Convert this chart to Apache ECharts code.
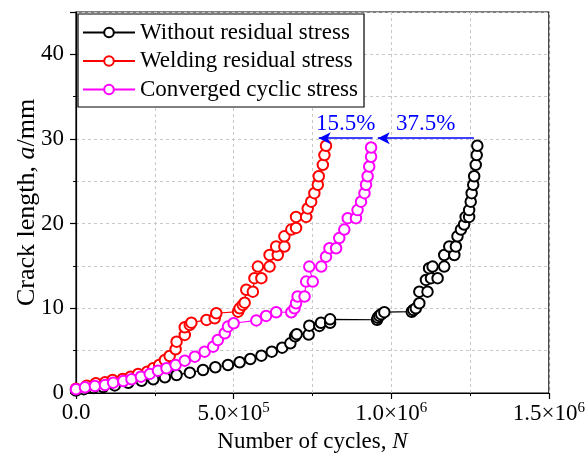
<!DOCTYPE html>
<html>
<head>
<meta charset="utf-8">
<script src="https://cdn.jsdelivr.net/npm/echarts@6/dist/echarts.min.js"></script>
<style>
  html, body { margin: 0; padding: 0; background: #fff; }
  #chart { width: 588px; height: 460px; }
</style>
</head>
<body>
<div id="chart"></div>
<script>
// Crack length a (mm) against number of cycles N for three stress conditions
const seriesNames = ['Without residual stress', 'Welding residual stress', 'Converged cyclic stress'];
const seriesColors = ['#000000', '#ff0000', '#ff00ff'];

const withoutResidual = [
  [0, 0.3], [2.5e4, 0.45], [5.5e4, 0.6], [8.6e4, 0.7], [1.23e5, 0.9], [1.66e5, 1.2],
  [2.08e5, 1.45], [2.45e5, 1.62], [2.82e5, 1.85], [3.19e5, 2.13], [3.61e5, 2.4],
  [4.03e5, 2.72], [4.42e5, 3.04], [4.82e5, 3.31], [5.19e5, 3.63], [5.53e5, 4.02],
  [5.88e5, 4.41], [6.21e5, 4.88], [6.54e5, 5.35], [6.8e5, 5.87], [6.95e5, 6.7],
  [7.0e5, 6.95], [7.38e5, 6.9], [7.4e5, 7.95], [7.72e5, 7.92], [7.77e5, 8.3],
  [8.06e5, 8.3], [8.06e5, 8.7], [9.55e5, 8.65], [9.57e5, 8.9], [9.62e5, 9.1],
  [9.68e5, 9.3], [9.78e5, 9.55], [1.065e6, 9.6], [1.07e6, 9.8], [1.078e6, 10.0],
  [1.089e6, 10.6], [1.089e6, 11.97], [1.115e6, 11.97], [1.11e6, 13.36], [1.126e6, 13.56],
  [1.147e6, 13.56], [1.12e6, 14.74], [1.131e6, 14.93], [1.168e6, 14.93], [1.168e6, 16.3],
  [1.2e6, 16.3], [1.184e6, 17.3], [1.205e6, 17.3], [1.21e6, 18.5], [1.221e6, 19.3],
  [1.231e6, 19.9], [1.236e6, 20.8], [1.247e6, 20.8], [1.247e6, 21.6], [1.252e6, 22.6],
  [1.255e6, 23.6], [1.26e6, 24.6], [1.263e6, 25.6], [1.268e6, 26.95], [1.271e6, 28.1],
  [1.273e6, 29.2]
];

const weldingResidual = [
  [0, 0.5], [3.4e4, 0.86], [6.3e4, 1.15], [9.2e4, 1.26], [1.16e5, 1.54], [1.48e5, 1.65],
  [1.73e5, 1.93], [1.97e5, 2.25], [2.26e5, 2.52], [2.45e5, 2.92], [2.64e5, 3.31],
  [2.82e5, 3.9], [2.97e5, 4.37], [3.16e5, 5.17], [3.19e5, 6.06], [3.45e5, 6.86],
  [3.45e5, 7.77], [3.61e5, 8.04], [3.66e5, 8.31], [4.14e5, 8.63], [4.4e5, 8.83],
  [4.45e5, 9.42], [5.14e5, 9.61], [5.19e5, 10.0], [5.29e5, 10.4], [5.35e5, 10.67],
  [5.4e5, 12.2], [5.61e5, 11.97], [5.66e5, 13.56], [5.88e5, 13.56], [5.77e5, 14.93],
  [6.14e5, 14.93], [6.14e5, 16.3], [6.4e5, 16.3], [6.35e5, 17.3], [6.61e5, 17.3],
  [6.61e5, 18.5], [6.83e5, 19.3], [6.98e5, 19.5], [6.98e5, 20.8], [7.3e5, 20.8],
  [7.35e5, 21.8], [7.46e5, 22.6], [7.56e5, 23.6], [7.67e5, 24.6], [7.7e5, 25.6],
  [7.83e5, 26.95], [7.88e5, 28.1], [7.93e5, 29.2]
];

const convergedCyclic = [
  [0, 0.44], [2.85e4, 0.67], [6.0e4, 0.83], [9.2e4, 0.95], [1.18e5, 1.22], [1.5e5, 1.42],
  [1.76e5, 1.62], [2.06e5, 1.93], [2.34e5, 2.25], [2.6e5, 2.64], [2.87e5, 2.92],
  [3.16e5, 3.31], [3.45e5, 3.82], [3.77e5, 4.29], [4.08e5, 4.88], [4.35e5, 5.47],
  [4.5e5, 6.26], [4.72e5, 7.06], [4.82e5, 7.84], [5.0e5, 8.24], [5.72e5, 8.57],
  [6.03e5, 9.1], [6.35e5, 9.54], [6.83e5, 9.54], [6.93e5, 10.0], [6.98e5, 10.6],
  [7.03e5, 11.4], [7.25e5, 11.4], [7.3e5, 13.16], [7.51e5, 13.16], [7.4e5, 14.93],
  [7.78e5, 14.93], [7.93e5, 16.1], [8.04e5, 17.1], [8.25e5, 17.1], [8.35e5, 18.3],
  [8.51e5, 19.3], [8.62e5, 20.65], [8.88e5, 20.65], [8.93e5, 21.6], [9.04e5, 22.6],
  [9.15e5, 23.6], [9.2e5, 24.6], [9.25e5, 25.6], [9.3e5, 26.75], [9.36e5, 27.9],
  [9.36e5, 29.0]
];

// Life-reduction arrows: [start N, end N, crack length, label]
const reductionArrows = [
  [1.262e6, 9.57e5, 30.1, '37.5%'],
  [9.41e5, 7.7e5, 30.1, '15.5%']
];

const xTicks = { 0: '0.0', 500000: '{m|5.0×10}{s|5}', 1000000: '{m|1.0×10}{s|6}', 1500000: '{m|1.5×10}{s|6}' };

const FONT = '"Liberation Serif", "Times New Roman", serif';
const FS = 23;
const dashed = { show: true, lineStyle: { color: '#c8c8c8', type: [3, 3], width: 1 } };

const chart = echarts.init(document.getElementById('chart'));

const seriesData = [withoutResidual, weldingResidual, convergedCyclic];
const series = seriesData.map((d, i) => ({
  name: seriesNames[i],
  type: 'line',
  data: d,
  symbol: 'emptyCircle',
  symbolSize: 10.5,
  showAllSymbol: true,
  animation: false,
  lineStyle: { color: seriesColors[i], width: 1.2 },
  itemStyle: { color: seriesColors[i], borderWidth: 1.2 },
  z: 2 + i
}));

series.push({
  type: 'line',
  data: [],
  silent: true,
  animation: false,
  markLine: {
    silent: true,
    animation: false,
    symbol: ['none', 'arrow'],
    symbolSize: [9, 12],
    lineStyle: { color: '#0000ff', width: 1.5, type: 'solid' },
    label: {
      show: true,
      position: 'middle',
      color: '#0000ff',
      fontFamily: FONT,
      fontSize: FS,
      distance: 3,
      formatter: p => p.data.tag
    },
    data: reductionArrows.map(r => [
      { coord: [r[0], r[2]], tag: r[3] },
      { coord: [r[1], r[2]] }
    ])
  }
});

chart.setOption({
  backgroundColor: '#fff',
  animation: false,
  grid: { left: 76, right: 38, top: 12, bottom: 67, show: true, borderColor: '#000', borderWidth: 1.2 },
  legend: {
    data: seriesNames,
    orient: 'vertical',
    left: 78,
    top: 14,
    padding: [7, 6, 6, 4],
    itemGap: 5.5,
    itemWidth: 52,
    itemHeight: 12,
    borderColor: '#000',
    borderWidth: 1.2,
    backgroundColor: '#fff',
    textStyle: { fontFamily: FONT, fontSize: FS, color: '#000', lineHeight: 23 }
  },
  xAxis: {
    type: 'value',
    min: 0,
    max: 1.5e6,
    interval: 5e5,
    name: 'Number of cycles, {i|N}',
    nameLocation: 'middle',
    nameGap: 36,
    nameTextStyle: {
      fontFamily: FONT, fontSize: FS, color: '#000',
      rich: { i: { fontFamily: FONT, fontSize: FS, fontStyle: 'italic', color: '#000' } }
    },
    axisLine: { show: true, lineStyle: { color: '#000', width: 1.2 } },
    axisTick: { show: true, inside: false, length: 6, lineStyle: { color: '#000', width: 1.2 } },
    minorTick: { show: true, splitNumber: 2, length: 3, lineStyle: { color: '#000', width: 1 } },
    splitLine: dashed,
    minorSplitLine: dashed,
    axisLabel: {
      fontFamily: FONT, fontSize: FS, color: '#000', margin: 8,
      formatter: v => xTicks[v] !== undefined ? xTicks[v] : '',
      rich: {
        m: { fontFamily: FONT, fontSize: FS, color: '#000' },
        s: { fontFamily: FONT, fontSize: 15, color: '#000', padding: [0, 0, 11, 0] }
      }
    }
  },
  yAxis: {
    type: 'value',
    min: 0,
    max: 45,
    interval: 10,
    name: 'Crack length, {i|a}/mm',
    nameLocation: 'middle',
    nameGap: 36,
    nameMoveOverlap: false,
    nameTextStyle: {
      fontFamily: FONT, fontSize: 26, color: '#000',
      rich: { i: { fontFamily: FONT, fontSize: 26, fontStyle: 'italic', color: '#000' } }
    },
    axisLine: { show: true, lineStyle: { color: '#000', width: 1.2 } },
    axisTick: { show: true, inside: false, length: 6, lineStyle: { color: '#000', width: 1.2 } },
    minorTick: { show: true, splitNumber: 2, length: 3, lineStyle: { color: '#000', width: 1 } },
    splitLine: dashed,
    minorSplitLine: dashed,
    axisLabel: {
      fontFamily: FONT, fontSize: FS, color: '#000', margin: 12,
      showMaxLabel: false
    }
  },
  series: series
});
</script>
</body>
</html>
